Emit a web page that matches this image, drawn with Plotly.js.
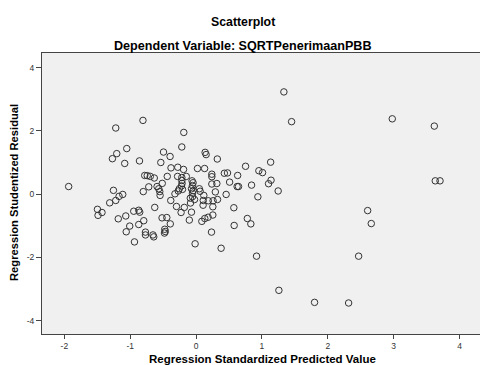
<!DOCTYPE html>
<html>
<head>
<meta charset="utf-8">
<script src="https://cdn.plot.ly/plotly-3.0.1.min.js"></script>
<style>html,body{margin:0;padding:0;background:#fff;}#chart{width:480px;height:365px;}</style>
</head>
<body>
<div id="chart"></div>
<script>
// Regression Standardized Predicted Value
var predicted = [
-1.935,-1.220,-0.807,-0.187,-1.053,-0.217,-1.205,-1.271,-1.084,-0.860,
-0.495,-0.395,-0.536,-0.381,-0.278,-0.191,-0.780,-0.742,-0.696,-0.635,
-0.438,-0.281,-0.149,-0.719,-0.802,-0.593,-0.567,-0.552,-0.547,-0.514,
-0.321,-0.271,-0.217,-0.217,-0.213,-0.222,-0.207,-1.255,-1.114,-1.170,
-1.220,-1.312,-1.498,-1.429,-1.489,-1.182,-1.068,-0.947,-0.871,-0.856,
-1.008,-1.061,-0.871,-0.795,-0.769,-0.769,-0.655,-0.643,-0.936,-0.628,
-0.476,-0.468,-0.480,-0.517,-0.445,-0.392,-0.385,-0.298,-0.228,-0.179,
-0.103,-0.088,-0.061,-0.046,-0.055,-0.070,-0.046,-0.055,-0.055,-0.024,
-0.085,-0.070,0.109,0.185,0.258,0.325,0.106,0.254,0.117,0.087,
0.132,0.182,0.254,0.234,-0.015,0.380,0.573,0.578,0.778,0.831,
0.918,0.938,0.456,0.292,0.137,0.152,0.322,0.021,0.129,0.239,
0.239,0.429,0.477,0.631,0.751,0.953,1.009,1.132,0.239,0.315,
0.509,0.623,0.644,0.842,1.100,1.138,1.246,0.049,0.061,1.333,
1.450,2.979,3.617,3.632,3.704,2.605,2.660,2.468,1.257,1.799,
2.316,-0.255
];
// Regression Studentized Residual
var residual = [
0.24,2.09,2.33,1.95,1.44,1.49,1.28,1.12,0.97,1.05,
1.33,1.19,1.00,0.83,0.85,0.78,0.59,0.585,0.56,0.51,
0.56,0.56,0.56,0.23,0.08,0.24,0.17,0.08,-0.04,0.34,
0.01,0.10,0.525,0.43,0.34,0.26,0.15,0.12,-0.01,-0.07,
-0.20,-0.275,-0.48,-0.58,-0.67,-0.78,-0.69,-0.54,-0.51,-0.57,
-1.01,-1.19,-0.96,-0.84,-1.20,-1.29,-1.29,-1.35,-1.51,-0.42,
-1.11,-1.18,-1.23,-0.75,-0.74,-0.94,-0.20,-0.39,-0.58,-0.42,
-0.82,-0.127,0.42,0.36,0.27,0.17,0.11,0.03,-0.08,-0.17,
-0.28,-0.57,-0.20,-0.21,-0.21,-0.17,-0.35,-0.40,-0.04,-0.86,
-0.77,-0.73,-0.66,-1.20,-1.57,-1.71,-0.43,-0.99,-0.77,-0.94,
-1.96,-0.085,-0.01,0.07,1.32,1.25,1.11,0.81,0.81,0.63,
0.55,0.66,0.67,0.59,0.88,0.74,0.68,1.01,0.32,0.335,
0.38,0.24,0.24,0.285,0.33,0.44,0.10,0.17,0.09,3.23,
2.29,2.38,2.15,0.42,0.42,-0.52,-0.93,-1.96,-3.04,-3.42,
-3.44,0.17
];
var xTicks = [-2,-1,0,1,2,3,4];
var yTicks = [-4,-2,0,2,4];

var FONT = "Liberation Sans, Arial, sans-serif";

var trace = {
  x: predicted, y: residual, type: 'scatter', mode: 'markers',
  marker: {symbol: 'circle-open', size: 6.5, color: '#333333', line: {width: 1, color: '#333333'}},
  hoverinfo: 'none'
};

var layout = {
  width: 480, height: 365,
  margin: {l: 42, r: 0, t: 53, b: 31, pad: 0},
  paper_bgcolor: '#ffffff', plot_bgcolor: '#f0f0f0',
  showlegend: false,
  font: {family: FONT, size: 9, color: '#222'},
  xaxis: {
    range: [-2.34, 4.311], tickvals: xTicks, ticktext: xTicks.map(String),
    showgrid: false, zeroline: false, showline: true, mirror: true,
    linecolor: '#444', linewidth: 1, ticks: 'outside', ticklen: 4, tickcolor: '#444',
    tickfont: {family: FONT, size: 8.5, color: '#333'}
  },
  yaxis: {
    range: [-4.42, 4.46], tickvals: yTicks, ticktext: yTicks.map(String),
    showgrid: false, zeroline: false, showline: true, mirror: false,
    linecolor: '#444', linewidth: 1, ticks: 'outside', ticklen: 5, tickcolor: '#444',
    tickfont: {family: FONT, size: 8.5, color: '#333'}
  },
  annotations: [
    {text: '<b>Scatterplot</b>', xref: 'paper', yref: 'paper', x: (243-42)/438, y: (334-22)/281,
     xanchor: 'center', yanchor: 'middle', showarrow: false, font: {family: FONT, size: 12.3, color: '#000'}},
    {text: '<b>Dependent Variable: SQRTPenerimaanPBB</b>', xref: 'paper', yref: 'paper', x: (243-42)/438, y: (334-46)/281,
     xanchor: 'center', yanchor: 'middle', showarrow: false, font: {family: FONT, size: 12.6, color: '#000'}},
    {text: '<b>Regression Standardized Predicted Value</b>', xref: 'paper', yref: 'paper', x: (262-42)/438, y: (334-358.5)/281,
     xanchor: 'center', yanchor: 'middle', showarrow: false, font: {family: FONT, size: 11.5, color: '#000'}},
    {text: '<b>Regression Studentized Residual</b>', xref: 'paper', yref: 'paper', x: (14-42)/438, y: (334-193)/281,
     xanchor: 'center', yanchor: 'middle', textangle: -90, showarrow: false, font: {family: FONT, size: 11.2, color: '#000'}}
  ]
};

Plotly.newPlot('chart', [trace], layout, {staticPlot: true, displayModeBar: false});
</script>
</body>
</html>
